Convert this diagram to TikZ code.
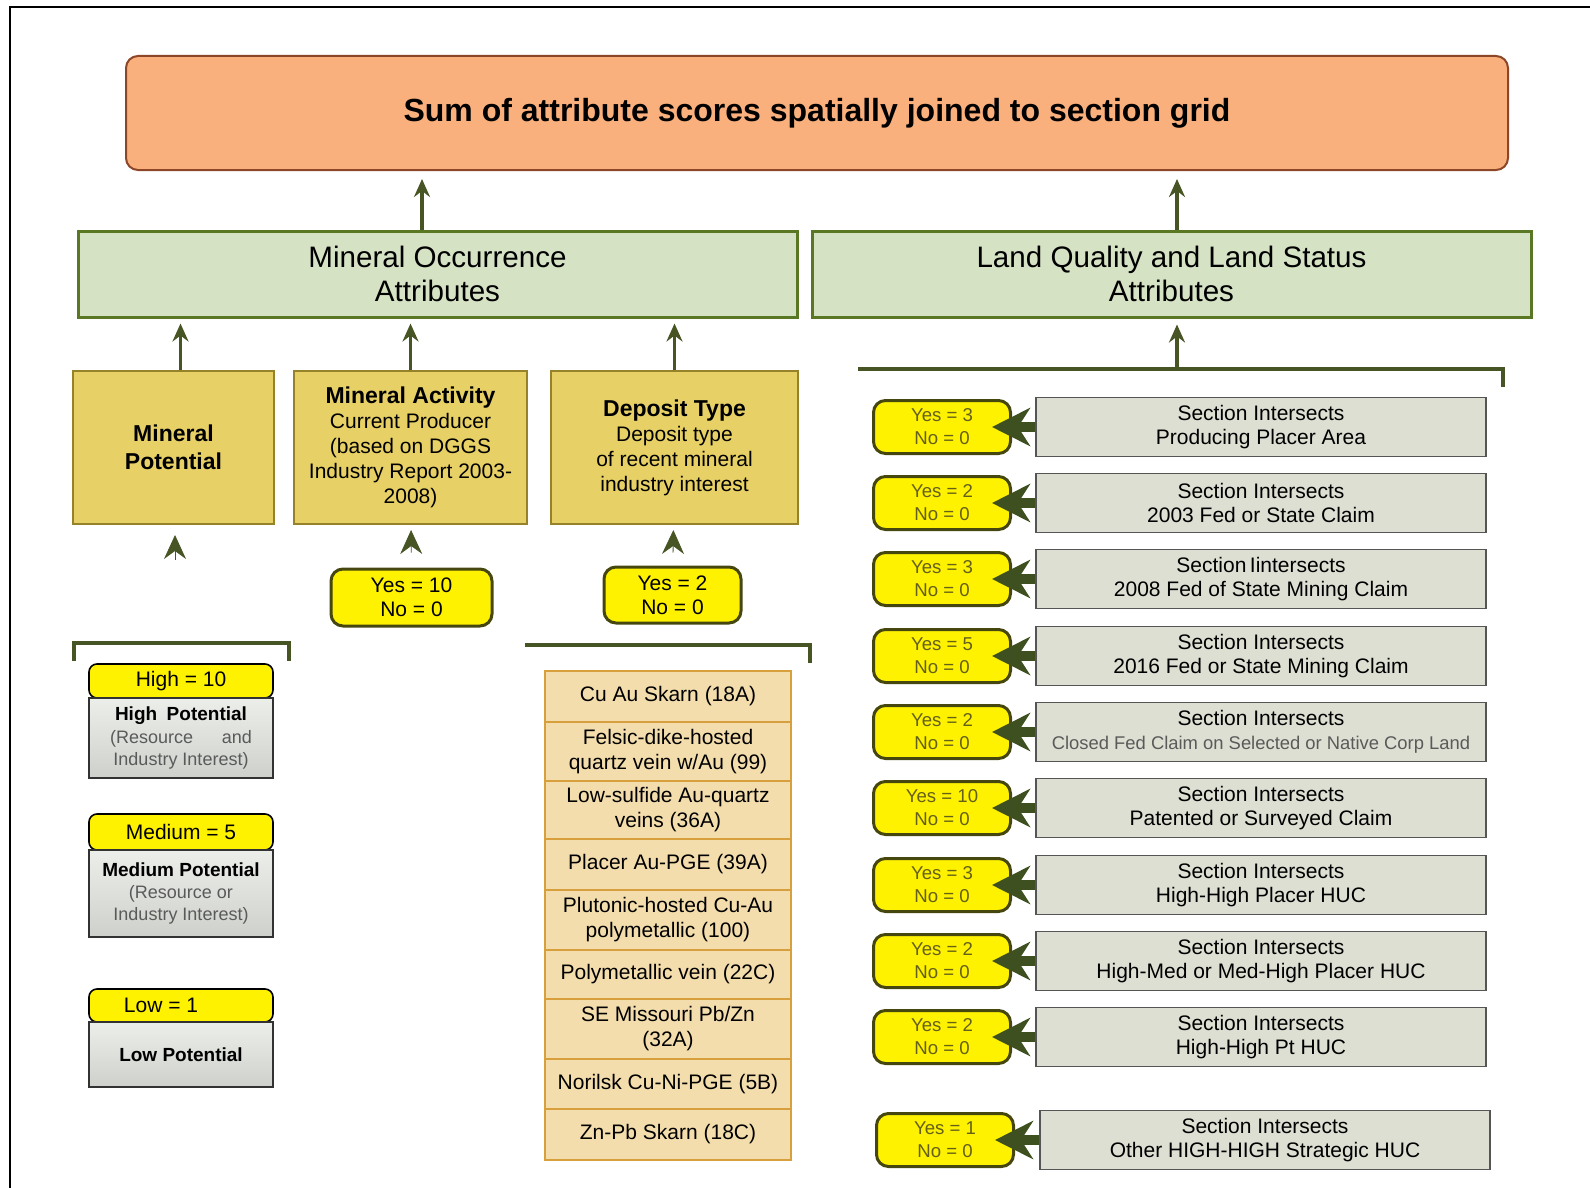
\documentclass[tikz,border=0pt]{standalone}
\usepackage{fontspec}
\setmainfont{Liberation Sans}
\usepackage{tikz}
\usetikzlibrary{shapes,arrows,arrows.meta,positioning}
\definecolor{sumfill}{RGB}{250,176,125}
\definecolor{sumedge}{RGB}{140,70,40}
\definecolor{hdrfill}{RGB}{214,226,196}
\definecolor{hdredge}{RGB}{90,120,35}
\definecolor{ylwfill}{RGB}{231,208,101}
\definecolor{ylwedge}{RGB}{150,130,40}
\definecolor{ynfill}{RGB}{255,242,0}
\definecolor{ynedge}{RGB}{70,70,15}
\definecolor{yntext}{RGB}{100,95,25}
\definecolor{grayfill}{RGB}{221,223,211}
\definecolor{grayedge}{RGB}{85,85,85}
\definecolor{dimtxt}{RGB}{90,90,90}
\definecolor{tanfill}{RGB}{244,221,172}
\definecolor{tanedge}{RGB}{215,160,60}
\definecolor{cardtop}{RGB}{236,238,234}
\definecolor{cardbot}{RGB}{206,209,203}
\definecolor{cardedge}{RGB}{50,50,50}
\definecolor{arrowclr}{RGB}{70,85,35}
\definecolor{bigclr}{RGB}{62,80,32}
\tikzstyle{sumbox} = [rectangle, draw=sumedge, fill=sumfill, line width=1pt,
    rounded corners=6pt, minimum width=691pt, minimum height=57pt,
    font=\fontsize{16}{19}\selectfont\bfseries]
\tikzstyle{attrbox} = [rectangle, draw=hdredge, fill=hdrfill, line width=1.5pt,
    minimum width=359.5pt, minimum height=43pt, align=center,
    font=\fontsize{14.8}{17}\selectfont]
\tikzstyle{block} = [rectangle, draw=ylwedge, fill=ylwfill, line width=1pt,
    minimum height=76.5pt, align=center, font=\fontsize{10.5}{12.5}\selectfont]
\tikzstyle{score} = [rectangle, rounded corners=6pt, draw=ynedge, fill=ynfill,
    line width=1.5pt, align=center, font=\fontsize{10.5}{12}\selectfont]
\tikzstyle{rscore} = [score, minimum width=68.5pt, minimum height=26.5pt,
    text=yntext, font=\fontsize{9.3}{11.5}\selectfont]
\tikzstyle{landbox} = [rectangle, draw=grayedge, fill=grayfill, line width=0.8pt,
    minimum width=225pt, minimum height=29.5pt, align=center,
    font=\fontsize{10.5}{12}\selectfont]
\tikzstyle{grade} = [rectangle, rounded corners=4pt, draw=black, fill=ynfill,
    line width=0.8pt, minimum width=92pt, outer sep=0pt,
    font=\fontsize{10.5}{12}\selectfont]
\tikzstyle{card} = [rectangle, draw=cardedge, top color=cardtop, bottom color=cardbot,
    line width=0.8pt, minimum width=92pt, outer sep=0pt, align=center,
    font=\fontsize{9}{11.2}\selectfont]
\tikzstyle{deptype} = [rectangle, draw=tanedge, fill=tanfill, line width=1pt,
    minimum width=123pt, inner ysep=2pt, outer sep=0pt, align=center,
    font=\fontsize{10.5}{12.5}\selectfont]
\tikzstyle{line} = [draw=arrowclr, line width=1.6pt, -{Stealth[length=9pt,width=8pt,inset=3pt]}]
\tikzstyle{headonly} = [draw=arrowclr, line width=0.4pt, -{Stealth[length=12pt,width=11pt,inset=4pt]}]
\tikzstyle{bigline} = [draw=bigclr, line width=5pt,
    -{Stealth[length=19pt,width=19pt,inset=6pt]}, shorten >=-10pt]
\tikzstyle{barline} = [draw=arrowclr, line width=2.2pt]

\begin{document}
\begin{tikzpicture}[x=0.5pt, y=-0.5pt]
    \useasboundingbox (0,0) rectangle (1590,1188);
    \draw [line width=0.8pt] (10,1188) -- (10,7) -- (1590,7);

    % top level
    \node [sumbox] (sum) at (817,113) {Sum of attribute scores spatially joined to section grid};
    \node [attrbox] (mo) at (437.5,274) {Mineral Occurrence\\Attributes};
    \node [attrbox] (lq) at (1171.5,274) {Land Quality and Land Status\\Attributes};
    \coordinate (moout) at ([xshift=-7.75pt]mo.north);
    \coordinate (lqout) at ([xshift=2.75pt]lq.north);
    \path [line, shorten >=4pt] (moout) -- (moout |- sum.south);
    \path [line, shorten >=4pt] (lqout) -- (lqout |- sum.south);

    % mineral occurrence
    \node [block, minimum width=100.5pt, font=\fontsize{11.5}{14}\selectfont\bfseries]
        (potential) at (173.5,447.5) {Mineral\\Potential};
    \node [block, minimum width=116.5pt] (activity) at (410.5,447.5)
        {\textbf{\fontsize{11.5}{12.5}\selectfont Mineral Activity}\\Current Producer\\(based on DGGS\\Industry Report 2003-\\2008)};
    \node [block, minimum width=123.5pt] (deposit) at (674.5,447.5)
        {\textbf{\fontsize{11.5}{12.5}\selectfont Deposit Type}\\Deposit type\\of recent mineral\\industry interest};
    \coordinate (potout) at ([xshift=3.5pt]potential.north);
    \path [line, shorten >=2.5pt] (potout) -- (potout |- mo.south);
    \path [line, shorten >=2.5pt] (activity.north) -- (activity.north |- mo.south);
    \path [line, shorten >=2.5pt] (deposit.north) -- (deposit.north |- mo.south);

    \node [score, minimum width=80.5pt, minimum height=28.5pt] (actyn) at (411.5,597.5) {Yes = 10\\No = 0};
    \node [score, minimum width=68.5pt, minimum height=28pt] (depyn) at (672.5,595) {Yes = 2\\No = 0};
    \path [headonly, shorten >=2.5pt, shorten <=7.5pt] (actyn) -- (activity);
    \path [headonly, shorten >=2.5pt, shorten <=6.5pt] (depyn) -- (deposit);

    % potential classes
    \draw [barline] (74,661) -- (74,643) -- (289,643) -- (289,661);
    \coordinate (potbar) at (175,643);
    \path [headonly, shorten >=5pt, shorten <=41.5pt] (potbar) -- (potbar |- potential.south);

    \node [grade, minimum height=17pt] (high) at (181,681) {High = 10};
    \node [card, minimum height=40pt, below=0pt of high] (highbody)
        {\fontsize{9.5}{11.2}\selectfont\textbf{High\enspace Potential}\\{\color{dimtxt}(Resource\hspace{1.6em}and}\\{\color{dimtxt}Industry Interest)}};
    \node [grade, minimum height=18pt] (medium) at (181,832) {Medium = 5};
    \node [card, minimum height=43.5pt, below=0pt of medium] (mediumbody)
        {\fontsize{9.5}{11.2}\selectfont\textbf{Medium Potential}\\{\color{dimtxt}(Resource or}\\{\color{dimtxt}Industry Interest)}};
    \node [grade, minimum height=16.5pt] (low) at (181,1005.5) {Low = 1\hspace*{20pt}};
    \node [card, minimum height=32.5pt, below=0pt of low] (lowbody)
        {\fontsize{9.5}{11.2}\selectfont\textbf{Low Potential}};

    % deposit types
    \draw [barline] (525,645) -- (810,645) -- (810,663);
    \node [deptype, minimum height=25.5pt] (dep1) at (668,696.5) {Cu Au Skarn (18A)};
    \node [deptype, minimum height=29.5pt, below=0pt of dep1] (dep2) {Felsic-dike-hosted\\quartz vein w/Au (99)};
    \node [deptype, minimum height=29pt, below=0pt of dep2] (dep3) {Low-sulfide Au-quartz\\veins (36A)};
    \node [deptype, minimum height=25.5pt, below=0pt of dep3] (dep4) {Placer Au-PGE (39A)};
    \node [deptype, minimum height=30pt, below=0pt of dep4] (dep5) {Plutonic-hosted Cu-Au\\polymetallic (100)};
    \node [deptype, minimum height=24.5pt, below=0pt of dep5] (dep6) {Polymetallic vein (22C)};
    \node [deptype, minimum height=30pt, below=0pt of dep6] (dep7) {SE Missouri Pb/Zn\\(32A)};
    \node [deptype, minimum height=25pt, below=0pt of dep7] (dep8) {Norilsk Cu-Ni-PGE (5B)};
    \node [deptype, minimum height=25.5pt, below=0pt of dep8] (dep9) {Zn-Pb Skarn (18C)};

    % land quality and land status
    \draw [barline] (858,369) -- (1503,369) -- (1503,387);
    \coordinate (landbar) at (1177,369);
    \path [line, shorten >=3pt] (landbar) -- (landbar |- lq.south);

    \node [rscore] (yn1) at (942,427) {Yes = 3\\No = 0};
    \node [landbox] (sec1) at (1261,427) {Section Intersects\\Producing Placer Area};
    \path [bigline] (sec1) -- (yn1);
    \node [rscore] (yn2) at (942,503) {Yes = 2\\No = 0};
    \node [landbox] (sec2) at (1261,503) {Section Intersects\\2003 Fed or State Claim};
    \path [bigline] (sec2) -- (yn2);
    \node [rscore] (yn3) at (942,579) {Yes = 3\\No = 0};
    \node [landbox] (sec3) at (1261,579) {Section\,Iintersects\\2008 Fed of State Mining Claim};
    \path [bigline] (sec3) -- (yn3);
    \node [rscore] (yn4) at (942,656) {Yes = 5\\No = 0};
    \node [landbox] (sec4) at (1261,656) {Section Intersects\\2016 Fed or State Mining Claim};
    \path [bigline] (sec4) -- (yn4);
    \node [rscore] (yn5) at (942,732) {Yes = 2\\No = 0};
    \node [landbox] (sec5) at (1261,732) {Section Intersects\\{\fontsize{9.2}{12}\selectfont\color{dimtxt}Closed Fed Claim on Selected or Native Corp Land}};
    \path [bigline] (sec5) -- (yn5);
    \node [rscore] (yn6) at (942,808) {Yes = 10\\No = 0};
    \node [landbox] (sec6) at (1261,808) {Section Intersects\\Patented or Surveyed Claim};
    \path [bigline] (sec6) -- (yn6);
    \node [rscore] (yn7) at (942,885) {Yes = 3\\No = 0};
    \node [landbox] (sec7) at (1261,885) {Section Intersects\\High-High Placer HUC};
    \path [bigline] (sec7) -- (yn7);
    \node [rscore] (yn8) at (942,961) {Yes = 2\\No = 0};
    \node [landbox] (sec8) at (1261,961) {Section Intersects\\High-Med or Med-High Placer HUC};
    \path [bigline] (sec8) -- (yn8);
    \node [rscore] (yn9) at (942,1037) {Yes = 2\\No = 0};
    \node [landbox] (sec9) at (1261,1037) {Section Intersects\\High-High Pt HUC};
    \path [bigline] (sec9) -- (yn9);
    \node [rscore] (yn10) at (945,1140) {Yes = 1\\No = 0};
    \node [landbox] (sec10) at (1265,1140) {Section Intersects\\Other HIGH-HIGH Strategic HUC};
    \path [bigline] (sec10) -- (yn10);
\end{tikzpicture}
\end{document}
